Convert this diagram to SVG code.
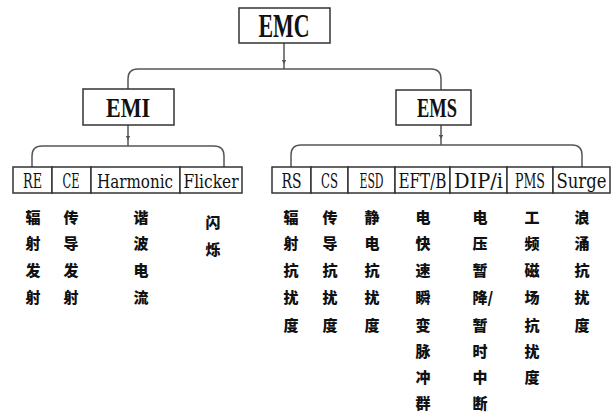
<svg xmlns="http://www.w3.org/2000/svg" width="616" height="415" viewBox="0 0 616 415">
<style>
.box{fill:#fff;stroke:#333;stroke-width:1.5}
.conn{fill:none;stroke:#555;stroke-width:1.5}
.big{font-family:"Liberation Serif","DejaVu Serif",serif;font-weight:bold;fill:#111;text-anchor:middle}
.lbl{font-family:"DejaVu Serif Condensed","DejaVu Serif","Liberation Serif",serif;font-stretch:condensed;font-size:21px;fill:#111;text-anchor:middle}
.zh{font-family:"Noto Sans CJK SC",sans-serif;font-weight:900;font-size:15px;fill:#111;text-anchor:middle}
</style>
<defs>
<marker id="tick" viewBox="0 0 6 6" refX="3" refY="3" markerWidth="3" markerHeight="3" orient="auto">
<path d="M0 0 L6 3 L0 6 z" fill="#555"/>
</marker>
</defs>
<rect width="616" height="415" fill="#fff"/>
<g id="connectors">
<path class="conn" d="M284 43 V62 V69" marker-mid="url(#tick)"/>
<path class="conn" d="M128 89 V79 Q128 69 138 69 H431 Q441 69 441 79 V90"/>
<path class="conn" d="M128 125 V138 V146" marker-mid="url(#tick)"/>
<path class="conn" d="M32 167 V156 Q32 146 42 146 H214 Q224 146 224 156 V167"/>
<path class="conn" d="M441 125 V137 V145" marker-mid="url(#tick)"/>
<path class="conn" d="M291 167 V155 Q291 145 301 145 H572 Q582 145 582 155 V167"/>
</g>
<g id="EMC"><rect class="box" x="239" y="8" width="91" height="35"/><text class="big" x="284" y="37" font-size="33" textLength="51" lengthAdjust="spacingAndGlyphs">EMC</text></g>
<g id="EMI"><rect class="box" x="83" y="89" width="91" height="36"/><text class="big" x="128" y="117" font-size="28" textLength="44" lengthAdjust="spacingAndGlyphs">EMI</text></g>
<g id="EMS"><rect class="box" x="396" y="90" width="75" height="35"/><text class="big" x="437" y="117" font-size="28" textLength="40" lengthAdjust="spacingAndGlyphs">EMS</text></g>

<g id="RE"><rect class="box" x="13" y="167" width="39" height="26"/><text class="lbl" x="32.5" y="188" textLength="19" lengthAdjust="spacingAndGlyphs">RE</text>
<text class="zh" x="33" y="223">辐</text><text class="zh" x="33" y="249">射</text><text class="zh" x="33" y="276">发</text><text class="zh" x="33" y="303">射</text></g>
<g id="CE"><rect class="box" x="52" y="167" width="39" height="26"/><text class="lbl" x="71" y="188" textLength="17" lengthAdjust="spacingAndGlyphs">CE</text>
<text class="zh" x="71" y="223">传</text><text class="zh" x="71" y="249">导</text><text class="zh" x="71" y="276">发</text><text class="zh" x="71" y="303">射</text></g>
<g id="Harmonic"><rect class="box" x="91" y="167" width="89" height="26"/><text class="lbl" x="135" y="188" style="font-size:18px" textLength="76" lengthAdjust="spacingAndGlyphs">Harmonic</text>
<text class="zh" x="141" y="223">谐</text><text class="zh" x="141" y="249">波</text><text class="zh" x="141" y="276">电</text><text class="zh" x="141" y="303">流</text></g>
<g id="Flicker"><rect class="box" x="180" y="167" width="62" height="26"/><text class="lbl" x="211" y="188" style="font-size:19px" textLength="55" lengthAdjust="spacingAndGlyphs">Flicker</text>
<text class="zh" x="213" y="228">闪</text><text class="zh" x="213" y="255">烁</text></g>

<g id="RS"><rect class="box" x="272" y="167" width="39" height="26"/><text class="lbl" x="291.5" y="188" textLength="20" lengthAdjust="spacingAndGlyphs">RS</text>
<text class="zh" x="291" y="223">辐</text><text class="zh" x="291" y="249">射</text><text class="zh" x="291" y="276">抗</text><text class="zh" x="291" y="303">扰</text><text class="zh" x="291" y="331">度</text></g>
<g id="CS"><rect class="box" x="311" y="167" width="37" height="26"/><text class="lbl" x="329.5" y="188" textLength="17" lengthAdjust="spacingAndGlyphs">CS</text>
<text class="zh" x="330" y="223">传</text><text class="zh" x="330" y="249">导</text><text class="zh" x="330" y="276">抗</text><text class="zh" x="330" y="303">扰</text><text class="zh" x="330" y="331">度</text></g>
<g id="ESD"><rect class="box" x="348" y="167" width="47" height="26"/><text class="lbl" x="371.5" y="188" textLength="24" lengthAdjust="spacingAndGlyphs">ESD</text>
<text class="zh" x="372" y="223">静</text><text class="zh" x="372" y="249">电</text><text class="zh" x="372" y="276">抗</text><text class="zh" x="372" y="303">扰</text><text class="zh" x="372" y="331">度</text></g>
<g id="EFTB"><rect class="box" x="395" y="167" width="55" height="26"/><text class="lbl" x="422.5" y="188" textLength="48" lengthAdjust="spacingAndGlyphs">EFT/B</text>
<text class="zh" x="423" y="223">电</text><text class="zh" x="423" y="249">快</text><text class="zh" x="423" y="276">速</text><text class="zh" x="423" y="303">瞬</text><text class="zh" x="423" y="331">变</text><text class="zh" x="423" y="357">脉</text><text class="zh" x="423" y="383">冲</text><text class="zh" x="423" y="409">群</text></g>
<g id="DIPi"><rect class="box" x="450" y="167" width="57" height="26"/><text class="lbl" x="478.5" y="188" textLength="49" lengthAdjust="spacingAndGlyphs">DIP/i</text>
<text class="zh" x="480" y="223">电</text><text class="zh" x="480" y="249">压</text><text class="zh" x="480" y="276">暂</text><text class="zh" x="472.5" y="303" style="text-anchor:start">降/</text><text class="zh" x="480" y="331">暂</text><text class="zh" x="480" y="357">时</text><text class="zh" x="480" y="383">中</text><text class="zh" x="480" y="409">断</text></g>
<g id="PMS"><rect class="box" x="507" y="167" width="46" height="26"/><text class="lbl" x="530" y="188" textLength="30" lengthAdjust="spacingAndGlyphs">PMS</text>
<text class="zh" x="532" y="223">工</text><text class="zh" x="532" y="249">频</text><text class="zh" x="532" y="276">磁</text><text class="zh" x="532" y="303">场</text><text class="zh" x="532" y="331">抗</text><text class="zh" x="532" y="357">扰</text><text class="zh" x="532" y="383">度</text></g>
<g id="Surge"><rect class="box" x="553" y="167" width="57" height="26"/><text class="lbl" x="581.5" y="188" textLength="50" lengthAdjust="spacingAndGlyphs">Surge</text>
<text class="zh" x="582" y="223">浪</text><text class="zh" x="582" y="249">涌</text><text class="zh" x="582" y="276">抗</text><text class="zh" x="582" y="303">扰</text><text class="zh" x="582" y="331">度</text></g>
</svg>
